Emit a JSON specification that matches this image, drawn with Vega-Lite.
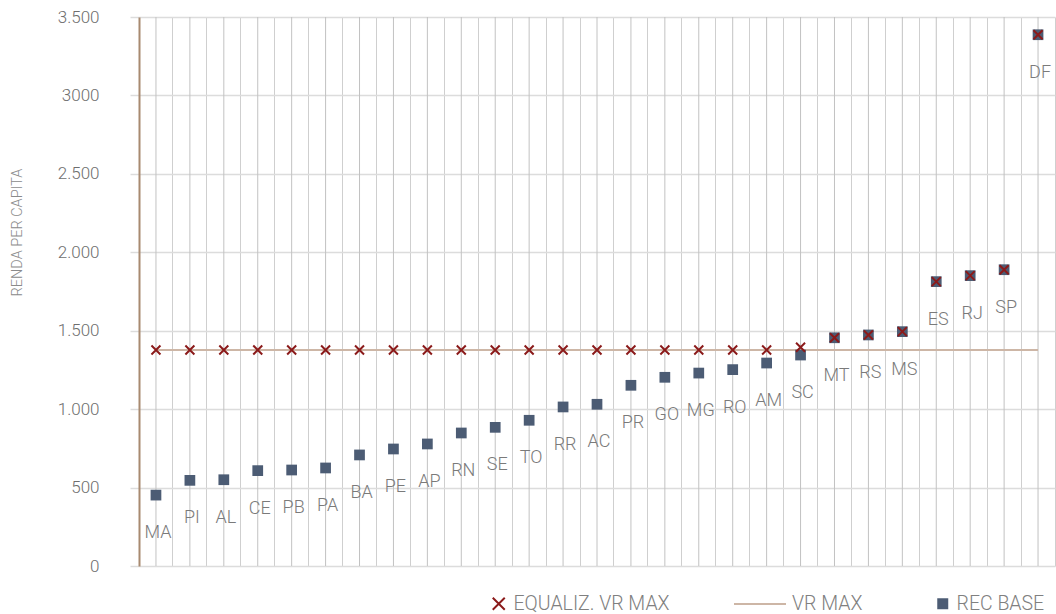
{
  "$schema": "https://vega.github.io/schema/vega-lite/v6.json",
  "width": 916,
  "height": 549,
  "autosize": {"type": "none"},
  "padding": {"left": 139, "top": 17, "right": 1, "bottom": 48},
  "background": "white",
  "config": {
    "view": {"stroke": null},
    "font": "Roboto",
    "legend": {"labelFont": "Roboto", "labelFontWeight": 300, "labelFontSize": 19.5, "labelColor": "#808080", "labelLimit": 400, "padding": 0, "title": null}
  },
  "data": {
    "values": [
      {"uf": "MA", "rec": 452, "eq": 1377, "vrmax": 1377},
      {"uf": "PI", "rec": 546, "eq": 1377, "vrmax": 1377},
      {"uf": "AL", "rec": 550, "eq": 1377, "vrmax": 1377},
      {"uf": "CE", "rec": 608, "eq": 1377, "vrmax": 1377},
      {"uf": "PB", "rec": 612, "eq": 1377, "vrmax": 1377},
      {"uf": "PA", "rec": 625, "eq": 1377, "vrmax": 1377},
      {"uf": "BA", "rec": 708, "eq": 1377, "vrmax": 1377},
      {"uf": "PE", "rec": 746, "eq": 1377, "vrmax": 1377},
      {"uf": "AP", "rec": 778, "eq": 1377, "vrmax": 1377},
      {"uf": "RN", "rec": 848, "eq": 1377, "vrmax": 1377},
      {"uf": "SE", "rec": 884, "eq": 1377, "vrmax": 1377},
      {"uf": "TO", "rec": 929, "eq": 1377, "vrmax": 1377},
      {"uf": "RR", "rec": 1014, "eq": 1377, "vrmax": 1377},
      {"uf": "AC", "rec": 1031, "eq": 1377, "vrmax": 1377},
      {"uf": "PR", "rec": 1152, "eq": 1377, "vrmax": 1377},
      {"uf": "GO", "rec": 1203, "eq": 1377, "vrmax": 1377},
      {"uf": "MG", "rec": 1230, "eq": 1377, "vrmax": 1377},
      {"uf": "RO", "rec": 1252, "eq": 1377, "vrmax": 1377},
      {"uf": "AM", "rec": 1294, "eq": 1377, "vrmax": 1377},
      {"uf": "SC", "rec": 1345, "eq": 1395, "vrmax": 1377},
      {"uf": "MT", "rec": 1455, "eq": 1455, "vrmax": 1377},
      {"uf": "RS", "rec": 1473, "eq": 1473, "vrmax": 1377},
      {"uf": "MS", "rec": 1494, "eq": 1494, "vrmax": 1377},
      {"uf": "ES", "rec": 1813, "eq": 1813, "vrmax": 1377},
      {"uf": "RJ", "rec": 1851, "eq": 1851, "vrmax": 1377},
      {"uf": "SP", "rec": 1889, "eq": 1889, "vrmax": 1377},
      {"uf": "DF", "rec": 3387, "eq": 3387, "vrmax": 1377}
    ]
  },
  "encoding": {
    "x": {
      "field": "uf", "type": "nominal", "sort": null,
      "scale": {"type": "band", "paddingInner": 0, "paddingOuter": 0},
      "axis": {"title": null, "labels": false, "ticks": false, "domain": false, "grid": true, "bandPosition": 1, "tickExtra": true, "gridColor": "#cfcfcf", "gridWidth": 1}
    }
  },
  "layer": [
    {
      "mark": {"type": "rule", "color": "#c2c2c2", "strokeWidth": 1},
      "encoding": {"x": {"field": "uf", "type": "nominal", "sort": null, "bandPosition": 0.5}}
    },
    {
      "mark": {"type": "line", "strokeWidth": 2},
      "encoding": {
        "y": {"field": "vrmax", "type": "quantitative", "scale": {"domain": [0, 3500]},
          "axis": {"title": "RENDA PER CAPITA", "values": [0, 500, 1000, 1500, 2000, 2500, 3000, 3500],
            "labelExpr": "datum.value == 3000 ? '3000' : replace(format(datum.value, ','), ',', '.')",
            "labelFont": "Roboto", "labelFontWeight": 300, "labelFontSize": 17, "labelColor": "#6e6e6e", "labelPadding": 31,
            "tickSize": 9, "tickColor": "#dcdcdc", "tickWidth": 1.5,
            "gridColor": "#dcdcdc", "gridWidth": 1.5,
            "domainColor": "#a88a70", "domainWidth": 2,
            "titleFont": "Roboto", "titleFontWeight": 300, "titleFontSize": 14.5, "titleColor": "#8a8a8a",
            "titleX": -122, "titleY": 215, "titleAngle": -90, "titleAlign": "center", "titleBaseline": "middle"}},
        "color": {"datum": "VR MAX", "type": "nominal", "scale": {"range": ["#cdb6a6"]},
          "legend": {"orient": "none", "legendX": 594, "legendY": 560, "symbolType": "stroke", "symbolSize": 2704, "symbolStrokeWidth": 2, "labelOffset": 5}}
      }
    },
    {
      "mark": {"type": "point", "shape": "square", "filled": true, "size": 115, "opacity": 1},
      "encoding": {
        "y": {"field": "rec", "type": "quantitative", "scale": {"domain": [0, 3500]}, "axis": {"title": "RENDA PER CAPITA"}},
        "color": {"datum": "REC BASE", "type": "nominal", "scale": {"range": ["#4c5c74"]},
          "legend": {"orient": "none", "legendX": 794, "legendY": 577, "symbolType": "square", "symbolSize": 121, "labelOffset": 4}}
      }
    },
    {
      "mark": {"type": "point", "shape": "M-1,-1L1,1M-1,1L1,-1", "filled": false, "size": 81, "strokeWidth": 2, "opacity": 1},
      "encoding": {
        "y": {"field": "eq", "type": "quantitative", "scale": {"domain": [0, 3500]}, "axis": {"title": "RENDA PER CAPITA"}},
        "color": {"datum": "EQUALIZ. VR MAX", "type": "nominal", "scale": {"range": ["#8b1a1a"]},
          "legend": {"orient": "none", "legendX": 350, "legendY": 577, "symbolType": "M-1,-1L1,1M-1,1L1,-1", "symbolSize": 144, "symbolStrokeWidth": 2, "labelOffset": 5}}
      }
    },
    {
      "mark": {"type": "text", "font": "Roboto", "fontWeight": 300, "fontSize": 18, "fill": "#7a7a7a", "dy": 38, "dx": 2, "baseline": "middle"},
      "encoding": {
        "y": {"field": "rec", "type": "quantitative", "scale": {"domain": [0, 3500]}, "axis": {"title": "RENDA PER CAPITA"}},
        "text": {"field": "uf"}
      }
    }
  ],
  "resolve": {"scale": {"color": "independent"}, "legend": {"color": "independent"}}
}
